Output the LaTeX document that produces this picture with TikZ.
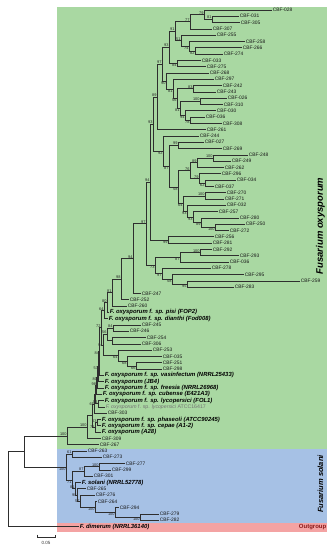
\documentclass[tikz,border=0pt]{standalone}
\usepackage{fontspec}
\setmainfont{Liberation Sans}
\definecolor{oxg}{HTML}{A9D8A2}
\definecolor{solb}{HTML}{A6C1E5}
\definecolor{outr}{HTML}{F4A3A3}
\definecolor{outt}{HTML}{8B1A1A}
\definecolor{ln}{HTML}{2E2E2E}
\tikzset{
 brl/.style={draw=ln, line width=0.7pt},
 cbf/.style={anchor=west, inner sep=0.6pt, font=\fontsize{4.9}{4.9}\selectfont, text=black!90},
 fox/.style={anchor=west, inner sep=0.6pt, font=\fontsize{5.9}{5.9}\selectfont\bfseries\itshape, text=black},
 foxl/.style={anchor=west, inner sep=0.6pt, font=\fontsize{5.2}{5.2}\selectfont, text=black!55},
 bsl/.style={inner sep=0.25pt, font=\fontsize{3.9}{3.9}\selectfont, text=black!85},
 bsab/.style={anchor=south east},
 bsbe/.style={anchor=north east},
 bsle/.style={anchor=east},
}
\newcommand\inode[5]{\coordinate (#1) at (#2,#3); \node[bsl,#5] (#1l) at (#1) {#4};}
\newcommand\leafn[5]{\coordinate (#1) at (#2,#3); \node[#5] (#1t) at (#1) {#4};}
\newcommand\branch[2]{\foreach \kid in {#2} {\draw[brl] (#1) |- (\kid);}}
\begin{document}
\begin{tikzpicture}[x=1pt,y=-1pt]
\path[use as bounding box] (0,0) rectangle (333,550);
\fill[oxg] (57,7) rectangle (327,449);
\fill[solb] (57,449) rectangle (327,523);
\fill[outr] (57,523) rectangle (327,532);
\node[rotate=90, font=\fontsize{9.5}{9.5}\selectfont\bfseries\itshape] (foxlab) at (320.5,226) {Fusarium oxysporum};
\node[rotate=90, font=\fontsize{7.5}{7.5}\selectfont\bfseries\itshape] (fsolab) at (320.5,484) {Fusarium solani};
\node[anchor=east, inner sep=0.5pt, font=\fontsize{6}{6}\selectfont\bfseries, text=outt] (outlab) at (327,527.5) {Outgroup};
\begin{scope}[x=1pt, y=-6.3pt, yshift=-3.7pt]
\leafn{l1}{272}{1}{CBF-028}{cbf}
\leafn{l2}{239}{2}{CBF-031}{cbf}
\leafn{l3}{240}{3}{CBF-305}{cbf}
\leafn{l4}{212}{4}{CBF-307}{cbf}
\leafn{l5}{216}{5}{CBF-255}{cbf}
\leafn{l6}{245}{6}{CBF-258}{cbf}
\leafn{l7}{242}{7}{CBF-266}{cbf}
\leafn{l8}{223}{8}{CBF-274}{cbf}
\leafn{l9}{201}{9}{CBF-033}{cbf}
\leafn{l10}{206}{10}{CBF-275}{cbf}
\leafn{l11}{209}{11}{CBF-268}{cbf}
\leafn{l12}{214}{12}{CBF-297}{cbf}
\leafn{l13}{222}{13}{CBF-242}{cbf}
\leafn{l14}{216}{14}{CBF-243}{cbf}
\leafn{l15}{227}{15}{CBF-026}{cbf}
\leafn{l16}{223}{16}{CBF-310}{cbf}
\leafn{l17}{216}{17}{CBF-030}{cbf}
\leafn{l18}{205}{18}{CBF-036}{cbf}
\leafn{l19}{222}{19}{CBF-308}{cbf}
\leafn{l20}{206}{20}{CBF-261}{cbf}
\leafn{l21}{199}{21}{CBF-244}{cbf}
\leafn{l22}{204}{22}{CBF-027}{cbf}
\leafn{l23}{222}{23}{CBF-269}{cbf}
\leafn{l24}{248}{24}{CBF-248}{cbf}
\leafn{l25}{231}{25}{CBF-249}{cbf}
\leafn{l26}{224}{26}{CBF-262}{cbf}
\leafn{l27}{221}{27}{CBF-296}{cbf}
\leafn{l28}{236}{28}{CBF-034}{cbf}
\leafn{l29}{214}{29}{CBF-037}{cbf}
\leafn{l30}{226}{30}{CBF-270}{cbf}
\leafn{l31}{224}{31}{CBF-271}{cbf}
\leafn{l32}{226}{32}{CBF-032}{cbf}
\leafn{l33}{218}{33}{CBF-257}{cbf}
\leafn{l34}{239}{34}{CBF-280}{cbf}
\leafn{l35}{245}{35}{CBF-250}{cbf}
\leafn{l36}{229}{36}{CBF-272}{cbf}
\leafn{l37}{214}{37}{CBF-256}{cbf}
\leafn{l38}{212}{38}{CBF-281}{cbf}
\leafn{l39}{212}{39}{CBF-292}{cbf}
\leafn{l40}{239}{40}{CBF-293}{cbf}
\leafn{l41}{229}{41}{CBF-036}{cbf}
\leafn{l42}{211}{42}{CBF-278}{cbf}
\leafn{l43}{244}{43}{CBF-295}{cbf}
\leafn{l44}{300}{44}{CBF-259}{cbf}
\leafn{l45}{234}{45}{CBF-283}{cbf}
\leafn{l46}{141}{46}{CBF-247}{cbf}
\leafn{l47}{129}{47}{CBF-252}{cbf}
\leafn{l48}{127}{48}{CBF-260}{cbf}
\leafn{l49}{109}{49}{F. oxysporum f. sp. pisi (FOP2)}{fox}
\leafn{l50}{108}{50}{F. oxysporum f. sp. dianthi (Fod008)}{fox}
\leafn{l51}{141}{51}{CBF-245}{cbf}
\leafn{l52}{129}{52}{CBF-246}{cbf}
\leafn{l53}{146}{53}{CBF-254}{cbf}
\leafn{l54}{141}{54}{CBF-306}{cbf}
\leafn{l55}{152}{55}{CBF-253}{cbf}
\leafn{l56}{162}{56}{CBF-035}{cbf}
\leafn{l57}{162}{57}{CBF-251}{cbf}
\leafn{l58}{162}{58}{CBF-298}{cbf}
\leafn{l59}{104}{59}{F. oxysporum f. sp. vasinfectum (NRRL25433)}{fox}
\leafn{l60}{104}{60}{F. oxysporum (JB4)}{fox}
\leafn{l61}{104}{61}{F. oxysporum f. sp. freesia (NRRL26968)}{fox}
\leafn{l62}{102}{62}{F. oxysporum f. sp. cubense (E421A3)}{fox}
\leafn{l63}{104}{63}{F. oxysporum f. sp. lycopersici (FOL1)}{fox}
\leafn{l64}{105}{64}{\textit{F. oxysporum} f. sp. \textit{lycopersici} ATCC16417}{foxl}
\leafn{l65}{107}{65}{CBF-303}{cbf}
\leafn{l66}{101}{66}{F. oxysporum f. sp. phaseoli (ATCC90245)}{fox}
\leafn{l67}{101}{67}{F. oxysporum f. sp. cepae (A1-2)}{fox}
\leafn{l68}{101}{68}{F. oxysporum (A28)}{fox}
\leafn{l69}{101}{69}{CBF-309}{cbf}
\leafn{l70}{99}{70}{CBF-267}{cbf}
\leafn{l71}{87}{71}{CBF-263}{cbf}
\leafn{l72}{102}{72}{CBF-273}{cbf}
\leafn{l73}{125}{73}{CBF-277}{cbf}
\leafn{l74}{111}{74}{CBF-299}{cbf}
\leafn{l75}{93}{75}{CBF-301}{cbf}
\leafn{l76}{81}{76}{F. solani (NRRL52778)}{fox}
\leafn{l77}{86}{77}{CBF-265}{cbf}
\leafn{l78}{95}{78}{CBF-276}{cbf}
\leafn{l79}{97}{79}{CBF-264}{cbf}
\leafn{l80}{119}{80}{CBF-294}{cbf}
\leafn{l81}{159}{81}{CBF-279}{cbf}
\leafn{l82}{159}{82}{CBF-282}{cbf}
\leafn{l83}{79}{83}{F. dimerum (NRRL36140)}{fox}
% internal nodes
\inode{na}{212}{2.5}{81}{bsab}
\inode{n79}{204}{1.75}{79}{bsab}
\inode{n77}{190}{2.875}{77}{bsab}
\inode{n82}{195}{7.5}{82}{bsbe}
\inode{n74}{189}{6.75}{74}{bsbe}
\inode{n51}{181}{5.875}{51}{bsab}
\inode{n91}{175}{4.375}{91}{bsab}
\inode{n84}{177}{9.5}{84}{bsbe}
\inode{n93b}{169}{6.9375}{93}{bsab}
\inode{n83}{193}{13.5}{83}{bsab}
\inode{n100a}{200}{15.5}{100}{bsab}
\inode{n78}{190}{18.5}{78}{bsbe}
\inode{n94}{185}{17.75}{94}{bsbe}
\inode{n81b}{180}{16.625}{81}{bsbe}
\inode{n56}{177}{15.0625}{56}{bsbe}
\inode{n81c}{173}{13.53}{81}{bsbe}
\inode{n90}{166}{12.27}{90}{bsbe}
\inode{n97b}{162}{9.6}{97}{bsab}
\inode{n89}{157}{14.8}{89}{bsab}
\inode{n99}{178}{22.5}{99}{bsab}
\inode{n100c}{213}{24.5}{100}{bsab}
\inode{n89b}{197}{25.25}{89}{bsab}
\inode{n62}{205}{28.5}{62}{bsbe}
\inode{n79c}{199}{27.75}{79}{bsab}
\inode{n76}{190}{26.5}{76}{bsab}
\inode{n100d}{205}{30.5}{100}{bsab}
\inode{n100e}{215}{35.5}{100}{bsbe}
\inode{n89c}{201}{34.75}{89}{bsbe}
\inode{n93c}{193}{33.875}{93}{bsbe}
\inode{n93d}{187}{32.94}{93}{bsbe}
\inode{n64}{183}{31.72}{64}{bsbe}
\inode{n58}{178}{29.11}{58}{bsbe}
\inode{n87}{169}{25.8}{87}{bsbe}
\inode{n92}{163}{23.4}{92}{bsbe}
\inode{n93}{153}{19.1}{93}{bsab}
\inode{n99b}{168}{37.5}{99}{bsbe}
\inode{n94b}{150}{28.3}{94}{bsab}
\inode{n100f}{200}{39.5}{100}{bsab}
\inode{n87b}{180}{40.25}{87}{bsbe}
\inode{n95}{187}{44.5}{95}{bsbe}
\inode{n58b}{172}{43.75}{58}{bsbe}
\inode{n97c}{162}{42.875}{97}{bsbe}
\inode{n73}{155}{41.56}{73}{bsbe}
\inode{n97}{146}{34.93}{97}{bsab}
\inode{n94a}{133}{40.47}{94}{bsab}
\inode{n98}{121}{43.73}{98}{bsab}
\inode{n81d}{112}{45.87}{81}{bsab}
\inode{n80}{107}{47.43}{80}{bsab}
\inode{n64b}{104}{48.72}{64}{bsab}
\inode{n84b}{113}{51.5}{84}{bsab}
\coordinate (nb) at (112,53.5);
\inode{n56b}{107}{52.5}{56}{bsab}
\inode{n68}{136}{57.5}{66}{bsbe}
\inode{n66a}{127}{56.75}{68}{bsbe}
\inode{n64c}{118}{55.875}{64}{bsbe}
\inode{n94c}{103}{54.19}{94}{bsle}
\inode{n72}{101}{51.45}{72}{bsab}
\inode{n84c}{99.5}{55.2}{84}{bsbe}
\inode{n57}{98.5}{57.6}{57}{bsbe}
\inode{n80b}{97.5}{59.3}{80}{bsbe}
\inode{nd}{96.5}{60.65}{98}{bsab}
\inode{ne}{98}{63.5}{54}{bsab}
\coordinate (nf) at (95.5,62.08);
\inode{n65}{94.5}{63.54}{65}{bsle}
\inode{n63}{97}{66.5}{63}{bsab}
\inode{n71}{95}{67.25}{71}{bsle}
\coordinate (nX) at (92,65.4);
\inode{n100g}{87}{67.2}{100}{bsab}
\inode{n100h}{67}{68.6}{100}{bsab}
\inode{n61}{72}{71.5}{61}{bsab}
\inode{n100i}{99}{73.5}{100}{bsab}
\inode{n87c}{84}{74.25}{87}{bsab}
\inode{n100j}{140}{81.5}{100}{bsbe}
\inode{n100k}{115}{80.75}{100}{bsbe}
\inode{n100l}{95}{79.875}{100}{bsbe}
\inode{n57b}{80}{78.94}{57}{bsle}
\inode{n98b}{77}{77.97}{98}{bsle}
\inode{n8x}{75}{76.98}{81}{bsab}
\inode{n71b}{72}{75.6}{71}{bsbe}
\inode{n100m}{66}{73.56}{100}{bsbe}
\coordinate (nFF) at (24,71.08);
\coordinate (root) at (8,77.04);
% branches
\branch{na}{l2,l3}
\branch{n79}{l1,na}
\branch{n77}{n79,l4}
\branch{n82}{l7,l8}
\branch{n74}{l6,n82}
\branch{n51}{l5,n74}
\branch{n91}{n77,n51}
\branch{n84}{l9,l10}
\branch{n93b}{n91,n84}
\branch{n83}{l13,l14}
\branch{n100a}{l15,l16}
\branch{n78}{l18,l19}
\branch{n94}{l17,n78}
\branch{n81b}{n100a,n94}
\branch{n56}{n83,n81b}
\branch{n81c}{l12,n56}
\branch{n90}{l11,n81c}
\branch{n97b}{n93b,n90}
\branch{n89}{n97b,l20}
\branch{n99}{l22,l23}
\branch{n100c}{l24,l25}
\branch{n89b}{n100c,l26}
\branch{n62}{l28,l29}
\branch{n79c}{l27,n62}
\branch{n76}{n89b,n79c}
\branch{n100d}{l30,l31}
\branch{n100e}{l35,l36}
\branch{n89c}{l34,n100e}
\branch{n93c}{l33,n89c}
\branch{n93d}{l32,n93c}
\branch{n64}{n100d,n93d}
\branch{n58}{n76,n64}
\branch{n87}{n99,n58}
\branch{n92}{l21,n87}
\branch{n93}{n89,n92}
\branch{n99b}{l37,l38}
\branch{n94b}{n93,n99b}
\branch{n100f}{l39,l40}
\branch{n87b}{n100f,l41}
\branch{n95}{l44,l45}
\branch{n58b}{l43,n95}
\branch{n97c}{l42,n58b}
\branch{n73}{n87b,n97c}
\branch{n97}{n94b,n73}
\branch{n94a}{n97,l46}
\branch{n98}{n94a,l47}
\branch{n81d}{n98,l48}
\branch{n80}{n81d,l49}
\branch{n64b}{n80,l50}
\branch{n84b}{l51,l52}
\branch{nb}{l53,l54}
\branch{n56b}{n84b,nb}
\branch{n68}{l57,l58}
\branch{n66a}{l56,n68}
\branch{n64c}{l55,n66a}
\branch{n94c}{n56b,n64c}
\branch{n72}{n64b,n94c}
\branch{n84c}{n72,l59}
\branch{n57}{n84c,l60}
\branch{n80b}{n57,l61}
\branch{nd}{n80b,l62}
\branch{ne}{l63,l64}
\branch{nf}{nd,ne}
\branch{n65}{nf,l65}
\branch{n63}{l66,l67}
\branch{n71}{n63,l68}
\branch{nX}{n65,n71}
\branch{n100g}{nX,l69}
\branch{n100h}{n100g,l70}
\branch{n61}{l71,l72}
\branch{n100i}{l73,l74}
\branch{n87c}{n100i,l75}
\branch{n100j}{l81,l82}
\branch{n100k}{l80,n100j}
\branch{n100l}{l79,n100k}
\branch{n57b}{l78,n100l}
\branch{n98b}{l77,n57b}
\branch{n8x}{l76,n98b}
\branch{n71b}{n87c,n8x}
\branch{n100m}{n61,n71b}
\branch{nFF}{n100h,n100m}
\branch{root}{nFF,l83}
\end{scope}
\coordinate (sb1) at (37,537);
\coordinate (sb2) at (55,537);
\draw[brl] (sb1) ++(0,-2.5) -- (sb1) -- (sb2) -- ++(0,-2.5);
\node[font=\fontsize{4.5}{4.5}\selectfont, text=black!80] (sbl) at (46,543) {0.05};
\end{tikzpicture}
\end{document}
